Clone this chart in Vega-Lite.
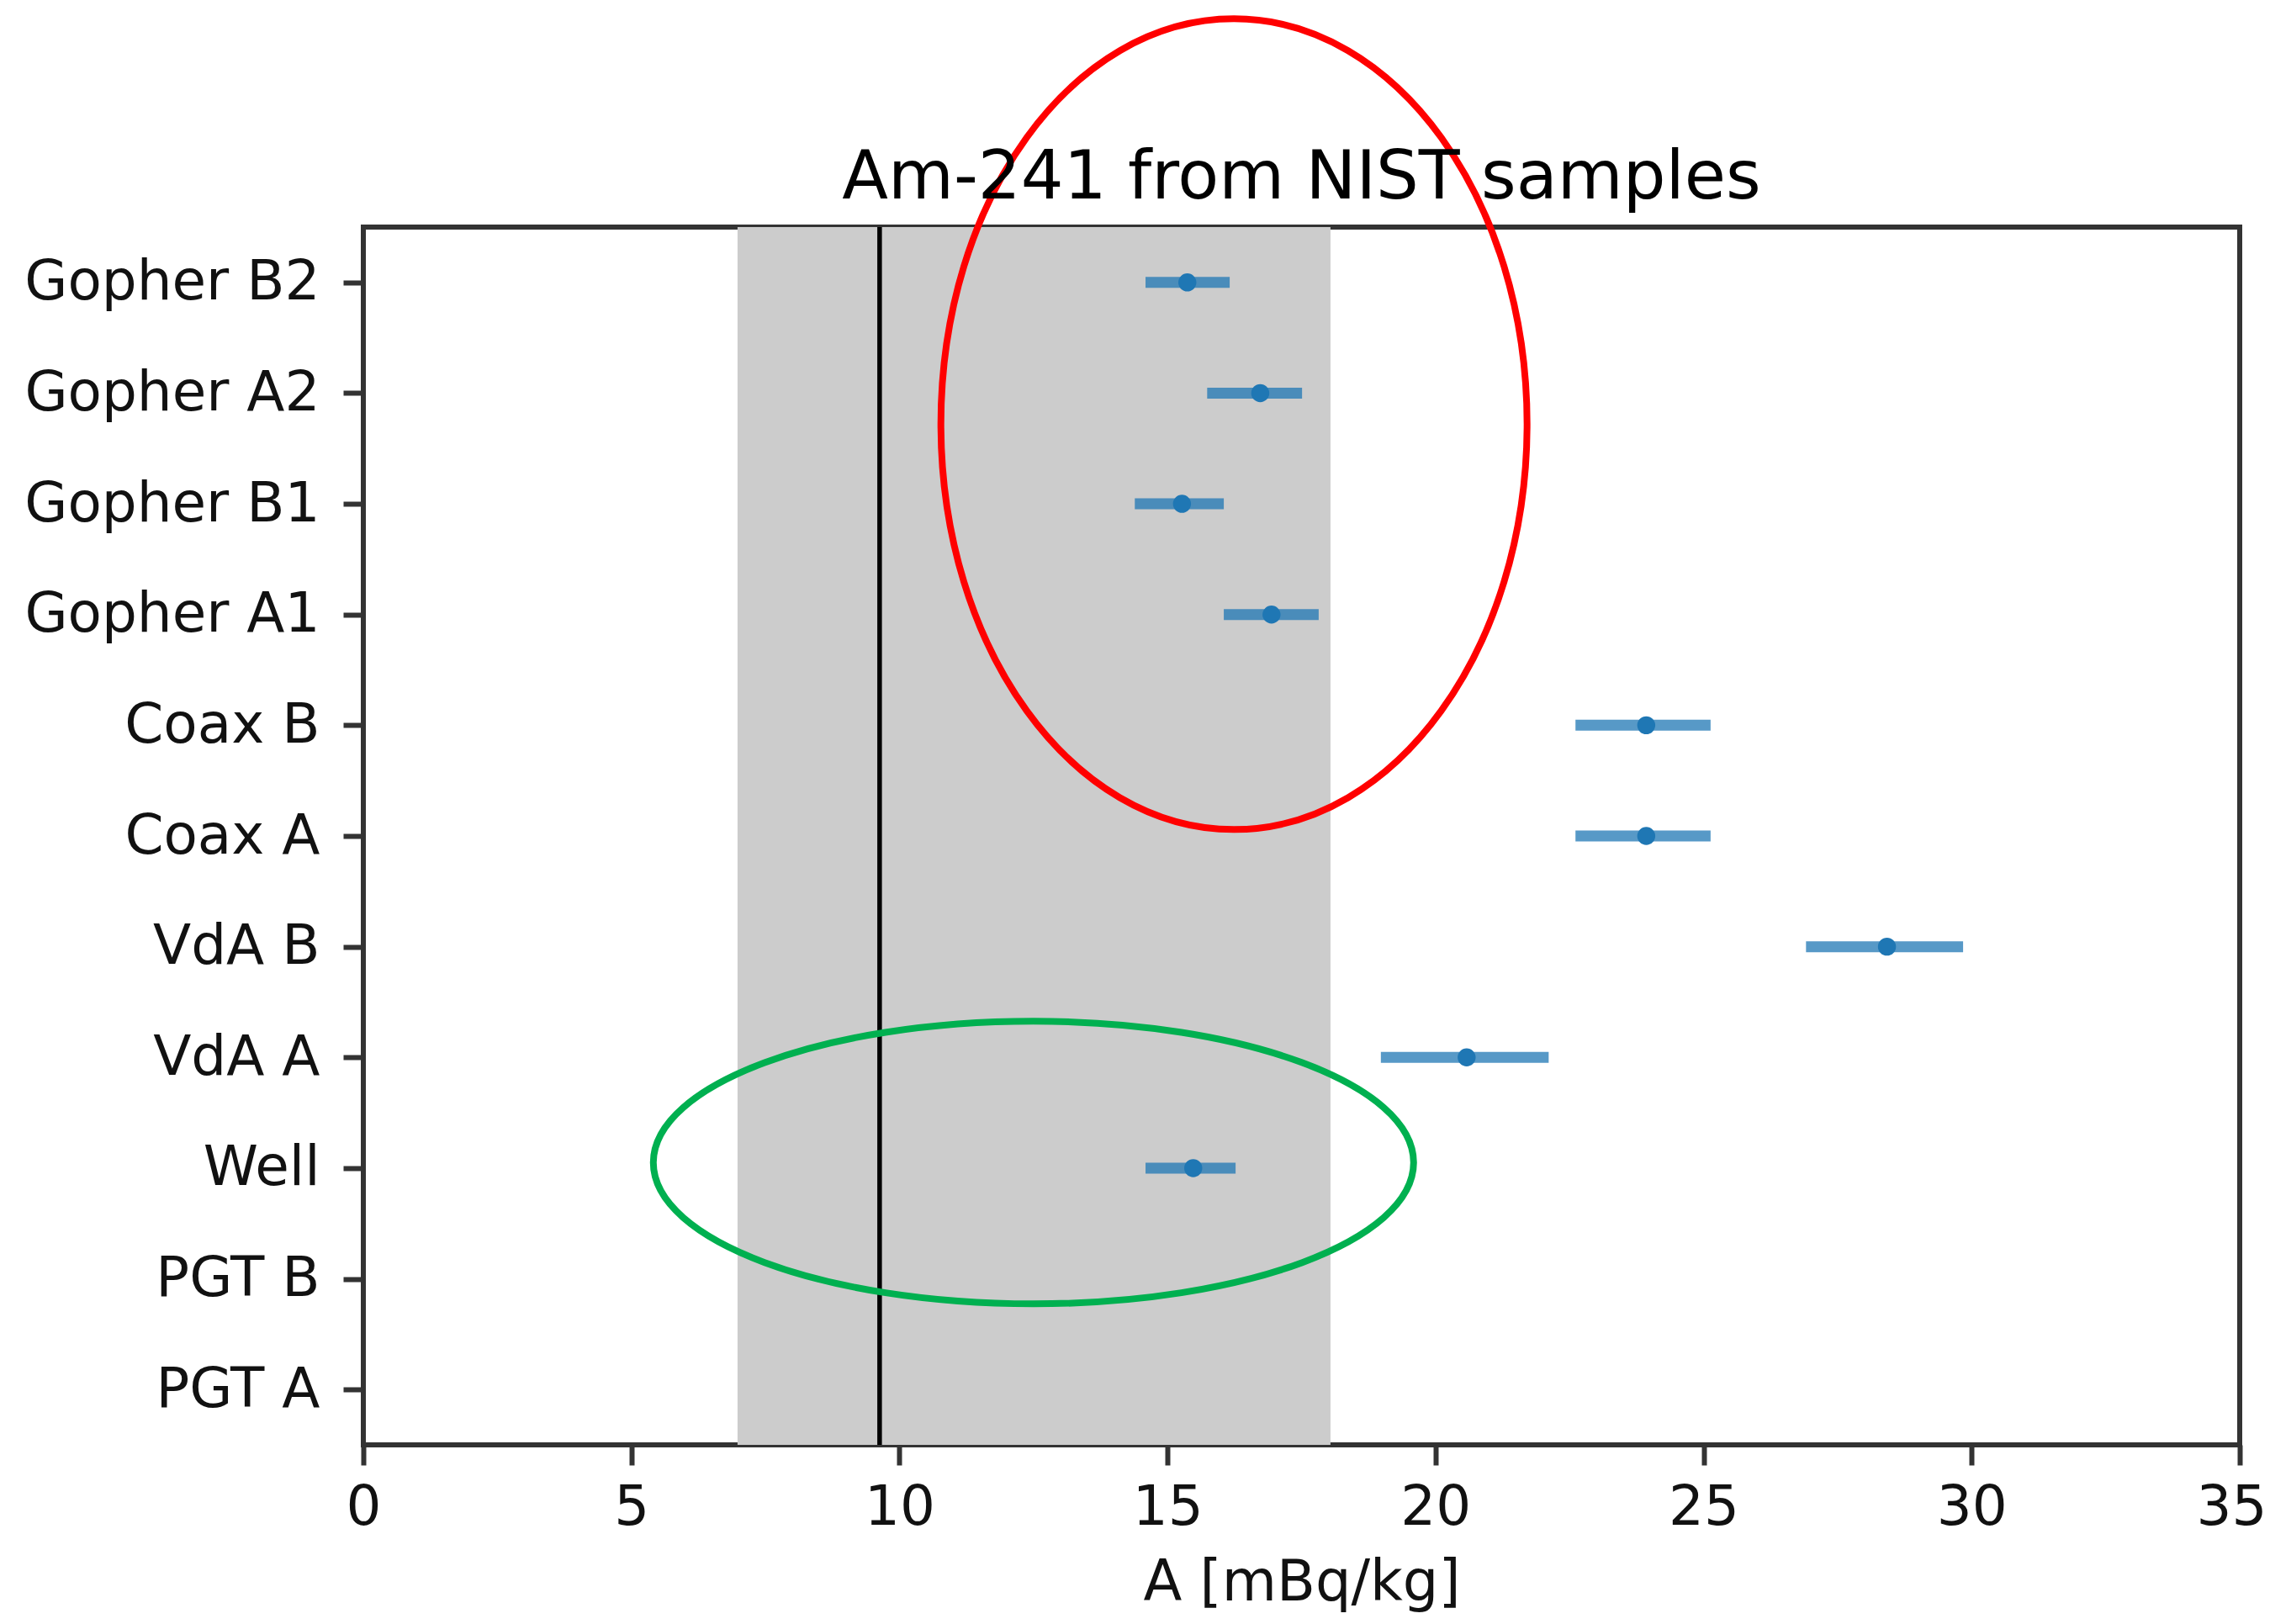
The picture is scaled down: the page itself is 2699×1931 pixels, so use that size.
{
  "$schema": "https://vega.github.io/schema/vega-lite/v6.json",
  "autosize": {"type": "none"},
  "width": 2231,
  "height": 1448,
  "padding": {"left": 432, "top": 270, "right": 36, "bottom": 213},
  "background": "white",
  "title": {"text": "Am-241 from NIST samples", "frame": "group", "anchor": "middle", "offset": -310, "baseline": "alphabetic"},
  "config": {
    "font": "DejaVu Sans",
    "view": {"stroke": "#333333", "strokeWidth": 6},
    "title": {"font": "DejaVu Sans", "fontSize": 80, "fontWeight": "normal", "color": "#000000"},
    "axis": {
      "grid": false, "domain": false, "zindex": 1,
      "labelFont": "DejaVu Sans", "labelFontSize": 66, "labelColor": "#111111", "labelLimit": 0,
      "titleFont": "DejaVu Sans", "titleFontSize": 67, "titleFontWeight": "normal", "titleColor": "#111111",
      "tickColor": "#333333", "tickWidth": 6, "tickSize": 24
    }
  },
  "datasets": {
    "samples": [
      {"sample": "Gopher B2", "A": 15.37, "lo": 14.59, "hi": 16.16},
      {"sample": "Gopher A2", "A": 16.73, "lo": 15.74, "hi": 17.51},
      {"sample": "Gopher B1", "A": 15.27, "lo": 14.39, "hi": 16.05},
      {"sample": "Gopher A1", "A": 16.94, "lo": 16.05, "hi": 17.82},
      {"sample": "Coax B", "A": 23.93, "lo": 22.61, "hi": 25.13},
      {"sample": "Coax A", "A": 23.93, "lo": 22.61, "hi": 25.13},
      {"sample": "VdA B", "A": 28.42, "lo": 26.91, "hi": 29.84},
      {"sample": "VdA A", "A": 20.58, "lo": 18.98, "hi": 22.11},
      {"sample": "Well", "A": 15.48, "lo": 14.59, "hi": 16.27}
    ],
    "reference": [
      {"lo": 6.98, "hi": 18.04, "ref": 9.63}
    ],
    "redRing": [{"cx": 16.24, "cy": 8.72}],
    "greenRing": [{"cx": 12.5, "cy": 2.05}]
  },
  "layer": [
    {
      "layer": [
        {
          "data": {"name": "reference"},
          "mark": {"type": "rect", "color": "#cccccc"},
          "encoding": {
            "x": {"field": "lo", "type": "quantitative"},
            "x2": {"field": "hi"}
          }
        },
        {
          "data": {"name": "reference"},
          "mark": {"type": "rule", "color": "#000000", "strokeWidth": 5.5},
          "encoding": {
            "x": {"field": "ref", "type": "quantitative"}
          }
        },
        {
          "data": {"name": "samples"},
          "mark": {"type": "rule", "color": "#1f77b4", "opacity": 0.75, "strokeWidth": 13},
          "encoding": {
            "y": {"field": "sample", "type": "nominal"},
            "x": {"field": "lo", "type": "quantitative"},
            "x2": {"field": "hi"}
          }
        },
        {
          "data": {"name": "samples"},
          "mark": {"type": "point", "shape": "circle", "filled": true, "color": "#1f77b4", "opacity": 1, "size": 460},
          "encoding": {
            "y": {"field": "sample", "type": "nominal"},
            "x": {"field": "A", "type": "quantitative"}
          }
        }
      ],
      "encoding": {
        "x": {
          "type": "quantitative",
          "scale": {"domain": [0, 35], "nice": false, "zero": false},
          "axis": {
            "values": [0, 5, 10, 15, 20, 25, 30, 35], "format": "d", "title": "A [mBq/kg]",
            "labelPadding": 18, "titlePadding": 24, "labelFlush": false,
            "labelOffset": {"condition": {"test": "datum.value == 35", "value": -10}, "value": 0}
          }
        },
        "y": {
          "type": "nominal",
          "scale": {
            "type": "point", "padding": 0.5,
            "domain": ["Gopher B2", "Gopher A2", "Gopher B1", "Gopher A1", "Coax B", "Coax A", "VdA B", "VdA A", "Well", "PGT B", "PGT A"]
          },
          "axis": {"title": null, "labelPadding": 28}
        }
      }
    },
    {
      "layer": [
        {
          "data": {"name": "redRing"},
          "mark": {
            "type": "point", "filled": false, "stroke": "#ff0000", "strokeWidth": 8, "opacity": 1,
            "size": 929296,
            "shape": "M0.723,0 C0.723,0.5523 0.3993,1 0,1 C-0.3993,1 -0.723,0.5523 -0.723,0 C-0.723,-0.5523 -0.3993,-1 0,-1 C0.3993,-1 0.723,-0.5523 0.723,0 Z"
          },
          "encoding": {
            "x": {"field": "cx", "type": "quantitative"},
            "y": {"field": "cy", "type": "quantitative"}
          }
        },
        {
          "data": {"name": "greenRing"},
          "mark": {
            "type": "point", "filled": false, "stroke": "#00b050", "strokeWidth": 8, "opacity": 1,
            "size": 817216,
            "shape": "M1,0 C1,0.2053 0.5523,0.3717 0,0.3717 C-0.5523,0.3717 -1,0.2053 -1,0 C-1,-0.2053 -0.5523,-0.3717 0,-0.3717 C0.5523,-0.3717 1,-0.2053 1,0 Z"
          },
          "encoding": {
            "x": {"field": "cx", "type": "quantitative"},
            "y": {"field": "cy", "type": "quantitative"}
          }
        }
      ],
      "encoding": {
        "y": {"type": "quantitative", "scale": {"domain": [-0.5, 10.5], "nice": false, "zero": false}, "axis": null}
      }
    }
  ],
  "resolve": {"scale": {"y": "independent"}}
}
